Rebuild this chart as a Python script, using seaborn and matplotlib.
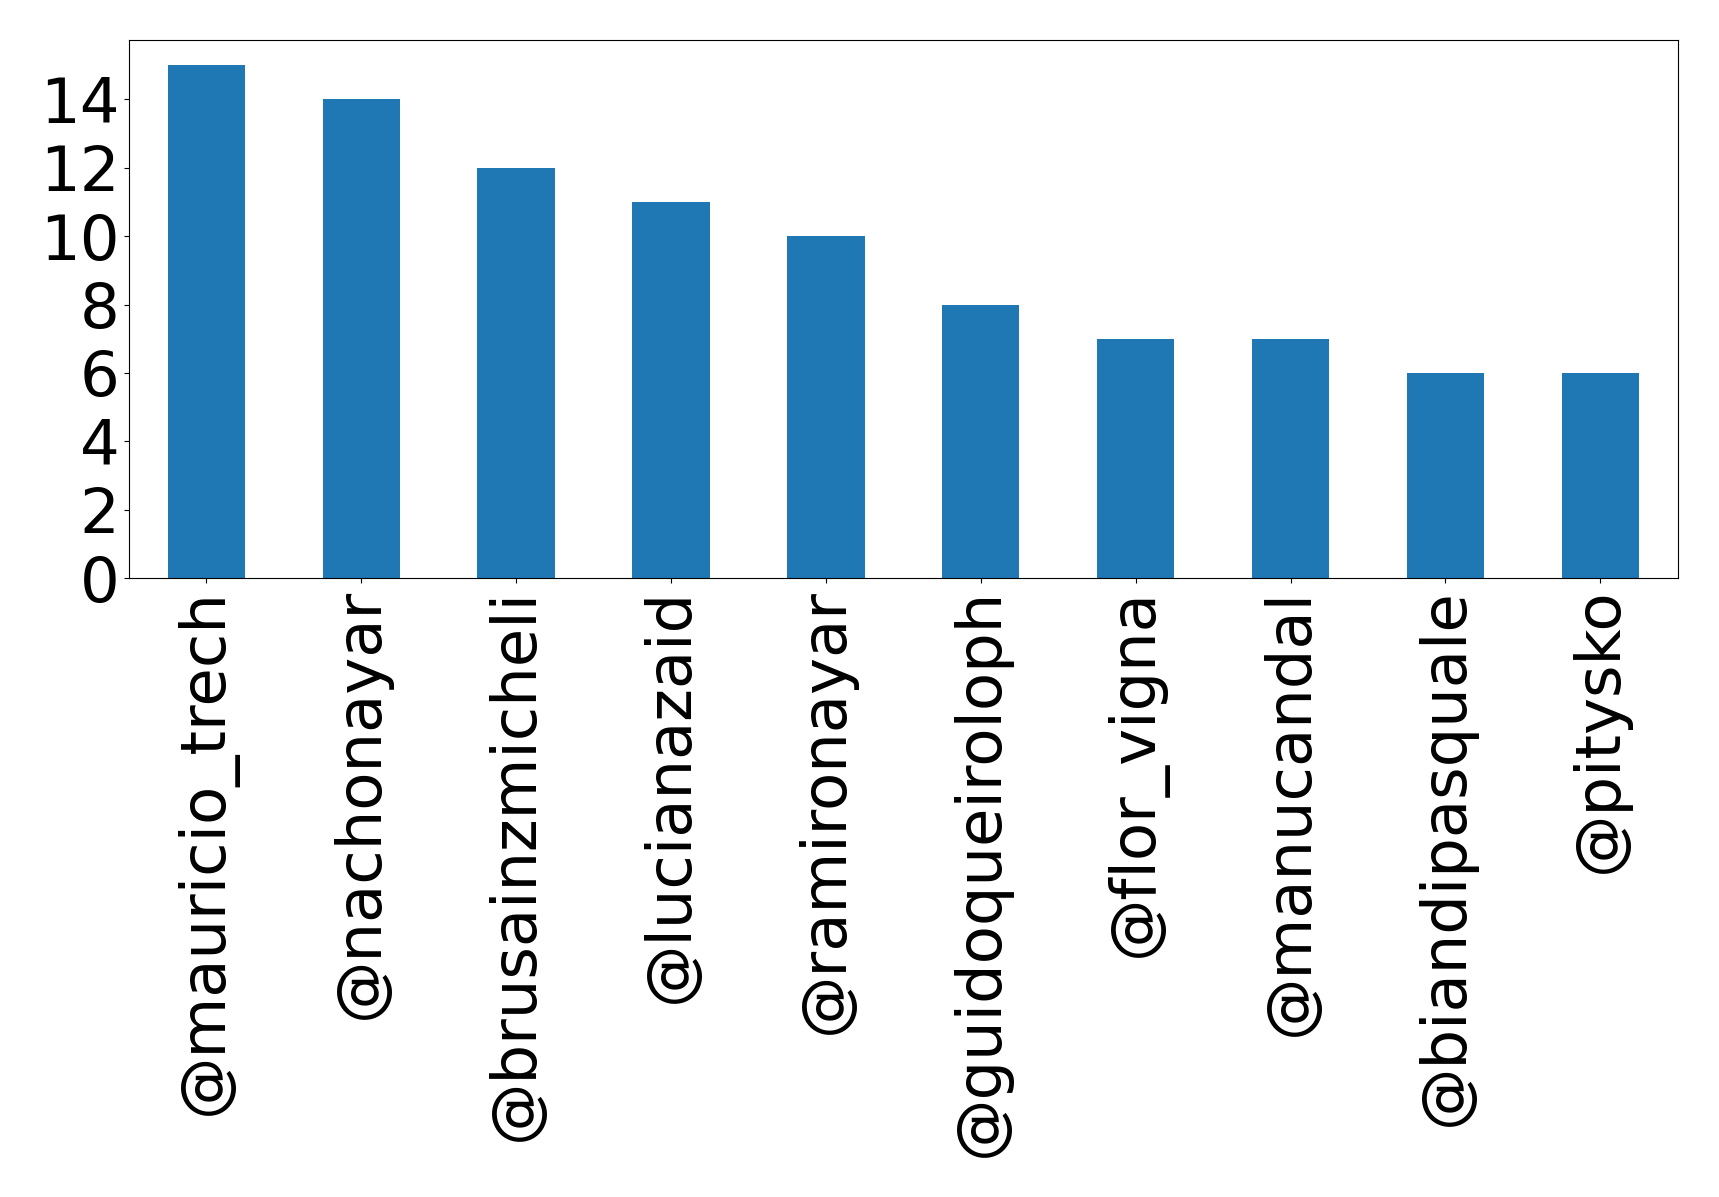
import matplotlib
matplotlib.use("Agg")
import matplotlib.pyplot as plt
import seaborn as sns
import pandas as pd

users = ["@mauricio_trech", "@nachonayar", "@brusainzmicheli", "@lucianazaid",
         "@ramironayar", "@guidoqueiroloph", "@flor_vigna", "@manucandal",
         "@biandipasquale", "@pitysko"]
counts = [15, 14, 12, 11, 10, 8, 7, 7, 6, 6]

df = pd.DataFrame({"user": users, "count": counts})

fig = plt.figure(figsize=(17.19, 11.97), dpi=100)
ax = fig.add_axes([0.075, 0.517, 0.901, 0.450])
sns.barplot(data=df, x="user", y="count", color="#1f77b4", saturation=1,
            width=0.5, ax=ax)
ax.set_xlim(-0.5, len(users) - 0.5)
ax.set_ylim(0, max(counts) * 1.05)
ax.set_yticks(range(0, 16, 2))
ax.set_xlabel("")
ax.set_ylabel("")
ax.tick_params(axis="both", labelsize=45)
plt.setp(ax.get_xticklabels(), rotation=90)
fig.savefig("out.png", dpi=100)
